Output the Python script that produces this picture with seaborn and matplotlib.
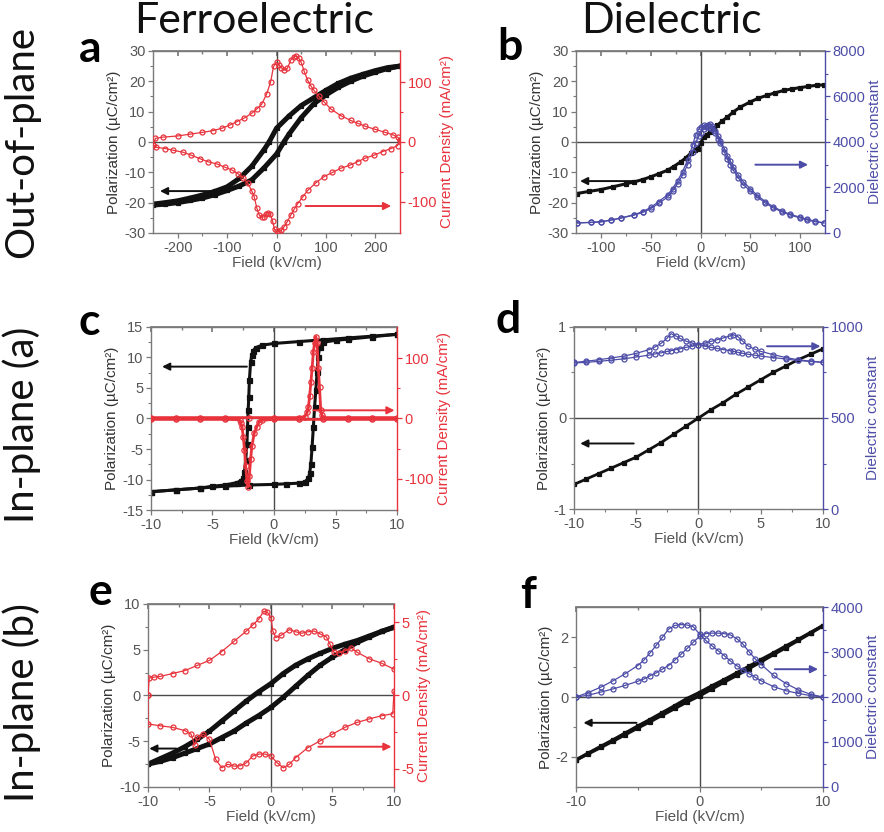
import matplotlib
matplotlib.use("Agg")
import matplotlib.pyplot as plt
import numpy as np
import pandas as pd
import seaborn as sns

sns.set_theme(style="white")
plt.rcParams['font.family'] = ['Liberation Sans', 'DejaVu Sans']
plt.rcParams['axes.unicode_minus'] = False

BLACK = '#111111'
RED = '#e8333c'
BLUE = '#4d4da8'
GREY = '#7a7a7a'
TICKTXT = '#555555'

# ---------------- (a) out-of-plane, ferroelectric ----------------
a_e_up = [250, 225, 200, 175, 150, 125, 100, 75, 50, 25, 0, -15, -25, -50, -75, -100, -125, -150, -175, -200, -225, -250]
a_p_up = [25, 24.5, 23.5, 22.3, 21, 19.3, 17, 14.5, 12, 8.5, 4.5, 0, -2.5, -8, -12, -14.8, -16.3, -17.5, -18.5, -19.4, -20, -20.5]
a_e_dn = [-250, -225, -200, -175, -150, -125, -100, -75, -50, -25, 0, 15, 25, 50, 75, 100, 125, 150, 175, 200, 225, 250]
a_p_dn = [-20.8, -20.5, -20, -19.3, -18.5, -17.4, -16, -14.5, -12.5, -8.5, -4, 0, 2.5, 8, 12.5, 15.5, 18, 20, 21.7, 23, 24.2, 25]
a_j_e_up = [-250, -245, -230, -200, -175, -150, -128, -110, -95, -80, -65, -50, -40, -30, -20, -12, -6, 0, 5, 10, 16, 22,
            29, 35, 40, 45, 50, 56, 63, 70, 76, 86, 96, 110, 130, 150, 165, 180, 200, 220, 235, 245, 250]
a_j_up = [-5, 6, 8, 10, 13, 16, 19, 23, 28, 34, 40, 48, 55, 63, 80, 100, 126, 133, 128, 124, 120, 123,
          137, 142, 143, 140, 133, 118, 103, 93, 86, 76, 67, 55, 44, 36, 31, 26, 21, 16, 12, 8, 4]
a_j_e_dn = [250, 245, 232, 215, 198, 180, 164, 148, 130, 113, 96, 80, 63, 53, 43, 36, 29, 22, 15, 10, 5, 0, -4, -8,
            -13, -18, -22, -25, -30, -35, -40, -45, -50, -58, -68, -78, -90, -105, -120, -139, -155, -173, -190,
            -209, -225, -243, -250]
a_j_dn = [4, -6, -11, -16, -22, -27, -33, -39, -44, -51, -58, -68, -81, -92, -103, -112, -122, -133, -142, -147, -150,
          -149, -146, -132, -120, -118, -121, -125, -126, -122, -110, -92, -82, -69, -60, -53, -47, -42, -37, -33,
          -28, -22, -17, -14, -11, -9, -5]

# ---------------- (b) out-of-plane, dielectric ----------------
b_e = [-124, -112, -100, -88, -75, -67, -58, -50, -42, -33, -27, -20, -15, -10, -6, -3, 0, 3, 6, 10, 14, 17, 22, 27,
       33, 40, 50, 58, 67, 75, 84, 92, 100, 108, 117, 124]
b_p = [-17, -16.3, -15.7, -14.8, -13.8, -13.2, -12.4, -11.5, -10.5, -9.3, -8.1, -6.6, -5.3, -3.8, -2.8, -2.2, -0.5,
       1.6, 2.4, 3.3, 4.5, 5.5, 7, 8.2, 9.9, 11.5, 13.2, 14.4, 15.4, 16.2, 17, 17.5, 17.9, 18.3, 18.7, 18.8]
b_eps_e = [-124, -110, -100, -90, -80, -67, -58, -50, -42, -33, -28, -23, -18, -13, -8, -5, -2, 0, 3, 5, 8, 10, 12,
           15, 18, 20, 24, 27, 30, 33, 38, 43, 50, 57, 65, 73, 82, 90, 100, 107, 115, 124]
b_eps_up = [440, 460, 480, 560, 650, 780, 900, 1070, 1300, 1580, 1850, 2170, 2550, 3000, 3550, 3950, 4250, 4400, 4550,
            4650, 4750, 4780, 4700, 4500, 4250, 4050, 3700, 3400, 3150, 2900, 2550, 2250, 1950, 1650, 1380, 1150,
            960, 820, 690, 600, 520, 440]
b_eps_dn = [440, 470, 500, 570, 660, 800, 940, 1120, 1380, 1680, 1950, 2300, 2700, 3200, 3850, 4300, 4550, 4650, 4730,
            4720, 4680, 4620, 4550, 4400, 4150, 3950, 3550, 3250, 3000, 2750, 2420, 2120, 1850, 1580, 1320, 1100,
            920, 790, 660, 570, 490, 440]

# ---------------- (c) in-plane (a), ferroelectric ----------------
c_e_up = [10, 8, 6, 4, 2, 0, -1, -1.5, -1.7, -1.8, -1.9, -2.0, -2.05, -2.1, -2.15, -2.2, -2.3, -2.4, -2.5, -2.7,
          -3, -4, -5, -6, -8, -10]
c_p_up = [13.8, 13.5, 13.2, 12.9, 12.6, 12.3, 12.0, 11.6, 11.1, 10.4, 9.3, 6.3, 3.5, 1.4, -1.4, -4.1, -6.8, -8.7,
          -9.8, -10.2, -10.5, -10.9, -11.1, -11.4, -11.7, -12.0]
c_e_dn = [-10, -8, -6, -4, -2, 0, 1, 2, 2.5, 2.8, 2.9, 3.0, 3.1, 3.2, 3.3, 3.4, 3.5, 3.6, 3.7, 4, 5, 6, 8, 10]
c_p_dn = [-12.0, -11.7, -11.4, -11.1, -10.9, -10.8, -10.7, -10.6, -10.4, -9.8, -9.0, -7.4, -4.6, -1.4, 1.9, 4.6,
          7.6, 10.1, 11.7, 12.5, 12.8, 13.0, 13.4, 13.8]
c_j_e_up = [-10, -8, -6, -4, -2, 0, 2, 2.5, 2.7, 2.8, 2.9, 3.0, 3.1, 3.2, 3.3, 3.4, 3.5, 3.6, 3.7, 3.8, 3.9, 4.0,
            6, 8, 10]
c_j_up = [1.5, 1.5, 1.5, 1.5, 1.5, 1.5, 1.5, 3, 10, 19, 38, 60, 84, 111, 125, 136, 125, 84, 52, 14, 5, 1.5,
          1.5, 1.5, 1.5]
c_j_e_dn = [10, 8, 6, 4, 2, 0, -1, -1.2, -1.4, -1.6, -1.8, -1.9, -2.0, -2.1, -2.2, -2.3, -2.4, -2.5, -2.6, -2.7,
            -2.8, -4, -6, -8, -10]
c_j_dn = [-1.5, -1.5, -1.5, -1.5, -1.5, -1.5, -3, -5, -14, -24, -46, -68, -95, -114, -103, -79, -52, -30, -14, -8,
          -2, -1.5, -1.5, -1.5, -1.5]

# ---------------- (d) in-plane (a), dielectric ----------------
d_e = [-10, -9, -8, -7, -6, -5, -4, -3, -2, -1, 0, 1, 2, 3, 4, 5, 6, 7, 8, 9, 10]
d_p = [-0.73, -0.67, -0.61, -0.55, -0.49, -0.43, -0.35, -0.27, -0.18, -0.09, 0.0, 0.09, 0.17, 0.26, 0.34, 0.42,
       0.50, 0.57, 0.64, 0.70, 0.76]
d_eps_e = [-10, -9, -8, -7, -6, -5, -4, -3.5, -3, -2.5, -2.2, -1.8, -1.5, -1, -0.5, 0, 0.5, 1, 1.5, 2, 2.5, 2.8,
           3.2, 3.5, 4, 4.5, 5, 6, 7, 8, 9, 10]
d_eps_a = [805, 812, 820, 830, 840, 855, 875, 890, 910, 940, 963, 950, 938, 922, 912, 903, 895, 888, 882, 876, 870,
           866, 860, 856, 850, 845, 840, 832, 824, 816, 810, 806]
d_eps_b = [802, 806, 811, 818, 825, 835, 845, 852, 858, 866, 870, 876, 880, 888, 895, 903, 912, 921, 930, 940, 950,
           958, 945, 925, 895, 878, 866, 848, 832, 820, 812, 806]

# ---------------- (e) in-plane (b), ferroelectric ----------------
e_e_up = [10, 9, 8, 7, 6, 5, 4, 3, 2, 1, 0, -1, -2, -3, -4, -5, -6, -7, -8, -9, -10]
e_p_up = [7.46, 7.0, 6.5, 6.0, 5.6, 5.15, 4.6, 4.0, 3.3, 2.4, 1.3, 0.4, -0.6, -1.7, -2.8, -3.9, -4.8, -5.6, -6.3,
          -6.9, -7.5]
e_e_dn = [-10, -9, -8, -7, -6, -5, -4, -3, -2, -1, 0, 1, 2, 3, 4, 5, 6, 7, 8, 9, 10]
e_p_dn = [-7.5, -7.2, -6.8, -6.3, -5.8, -5.3, -4.6, -3.9, -3.0, -2.2, -1.3, -0.2, 1.0, 2.2, 3.3, 4.2, 5.0, 5.8,
          6.4, 7.0, 7.46]
e_j_e_up = [-10, -9.9, -9.5, -9, -8, -7, -6, -5, -4, -3, -2, -1.5, -1, -0.6, -0.3, 0, 0.15, 0.4, 0.8, 1.5, 2,
            2.5, 3, 3.5, 4, 4.5, 4.8, 5.1, 5.5, 6, 6.5, 7, 8, 9, 10]
e_j_up = [0.0, 1.2, 1.25, 1.3, 1.5, 1.7, 2.05, 2.4, 3.0, 3.7, 4.4, 4.8, 5.2, 5.75, 5.7, 5.3, 4.4, 3.95, 4.1, 4.5,
          4.35, 4.25, 4.35, 4.4, 4.2, 4.0, 3.5, 2.95, 2.9, 3.05, 3.25, 2.95, 2.5, 2.2, 1.8]
e_j_e_dn = [10, 9.9, 9, 8, 7, 6, 5, 4, 3, 2, 1.5, 1, 0.5, 0, -0.5, -1, -1.5, -2, -2.5, -3, -3.5, -4, -4.5, -5,
            -5.5, -6, -6.2, -6.5, -7, -8, -9, -10, -10]
e_j_dn = [0.3, -1.25, -1.38, -1.6, -1.84, -2.18, -2.64, -3.1, -3.56, -4.25, -4.7, -4.94, -4.6, -4.14, -4.0, -4.0,
          -4.14, -4.6, -4.8, -4.83, -4.7, -4.94, -4.37, -3.0, -2.64, -2.87, -3.4, -2.64, -2.4, -2.18, -2.07,
          -1.95, 0.0]

# ---------------- (f) in-plane (b), dielectric ----------------
f_e = [-10, -9, -8, -7, -6, -5, -4, -3, -2, -1, 0, 1, 2, 3, 4, 5, 6, 7, 8, 9, 10]
f_p_dn = [-2.1, -1.89, -1.68, -1.47, -1.25, -1.03, -0.82, -0.6, -0.38, -0.16, 0.04, 0.27, 0.5, 0.72, 0.95, 1.18,
          1.42, 1.65, 1.89, 2.13, 2.38]
f_p_up = [-2.1, -1.87, -1.65, -1.43, -1.2, -0.97, -0.75, -0.52, -0.29, -0.05, 0.15, 0.37, 0.58, 0.8, 1.02, 1.25,
          1.47, 1.7, 1.92, 2.15, 2.38]
f_eps_e = [-10, -9, -8, -7, -6, -5, -4.5, -4, -3.5, -3, -2.5, -2, -1.5, -1, -0.5, 0, 0.5, 1, 1.5, 2, 2.5, 3, 3.5,
           4, 4.5, 5, 6, 7, 8, 9, 10]
f_eps_a = [2000, 2100, 2218, 2360, 2520, 2700, 2820, 2982, 3150, 3330, 3510, 3590, 3610, 3600, 3560, 3400, 3260,
           3140, 3030, 2920, 2800, 2700, 2610, 2520, 2440, 2360, 2230, 2140, 2080, 2030, 2000]
f_eps_b = [2000, 2040, 2109, 2180, 2260, 2350, 2400, 2473, 2540, 2620, 2700, 2820, 2950, 3080, 3220, 3345, 3410,
           3420, 3420, 3410, 3380, 3300, 3180, 3010, 2850, 2720, 2480, 2300, 2160, 2060, 2000]

FIELD = "Field (kV/cm)"
POL = "Polarization (µC/cm²)"
CUR = "Current Density (mA/cm²)"
DIEL = "Dielectric constant"

TICK_FS = 10.5
LABEL_FS = 11

fig = plt.figure(figsize=(8.84, 8.32), dpi=100)


def trace(ax, x, y, color, marker, ms, lw, filled=True, mew=0.9):
    df = pd.DataFrame({"field": x, "value": y})
    sns.lineplot(data=df, x="field", y="value", ax=ax, sort=False, estimator=None, legend=False,
                 color=color, lw=lw, marker=marker, markersize=ms, markeredgecolor=color,
                 markerfacecolor=color if filled else "none", markeredgewidth=mew)


def panel(rect, xlim, xt, xmin, ylim, yt, ymin, rlim, rt, rmin, rcolor):
    ax = fig.add_axes(rect)
    ax2 = ax.twinx()
    ax.set_xlim(*xlim)
    ax.set_ylim(*ylim)
    ax2.set_ylim(*rlim)
    ax.set_xticks(xt)
    ax.set_xticks(xmin, minor=True)
    ax.set_yticks(yt)
    ax.set_yticks(ymin, minor=True)
    ax2.set_yticks(rt)
    ax2.set_yticks(rmin, minor=True)
    for s in ("left", "bottom", "top"):
        ax.spines[s].set_color(GREY)
        ax.spines[s].set_linewidth(1.0)
        ax2.spines[s].set_visible(False)
    ax.spines["right"].set_visible(False)
    ax2.spines["right"].set_color(rcolor)
    ax2.spines["right"].set_linewidth(1.0)
    ax.tick_params(axis="both", which="both", direction="out", color=GREY, labelcolor=TICKTXT,
                   labelsize=TICK_FS, left=True, bottom=True, pad=2)
    ax.tick_params(which="major", length=3.5, width=0.9)
    ax.tick_params(which="minor", length=2, width=0.8)
    ax2.tick_params(axis="y", which="both", direction="out", color=rcolor, labelcolor=rcolor,
                    labelsize=TICK_FS, right=True, pad=2)
    ax2.tick_params(which="major", length=3.5, width=0.9)
    ax2.tick_params(which="minor", length=2, width=0.8)
    top = ax.secondary_xaxis("top")
    top.set_xticks(xt)
    top.set_xticks(xmin, minor=True)
    top.tick_params(axis="x", which="both", direction="in", labeltop=False, color=GREY)
    top.tick_params(which="major", length=3.5)
    top.tick_params(which="minor", length=2)
    top.spines["top"].set_color(GREY)
    ax.axhline(0, color="#4a4a4a", lw=1.0, zorder=1)
    ax.axvline(0, color="#4a4a4a", lw=1.0, zorder=1)
    return ax, ax2


def finish(ax, ax2, rcolor, rlabel):
    ax.set_xlabel(FIELD, fontsize=LABEL_FS, color=TICKTXT, labelpad=1)
    ax.set_ylabel(POL, fontsize=LABEL_FS, color="#333333", labelpad=2)
    ax2.set_ylabel(rlabel, fontsize=LABEL_FS, color=rcolor, labelpad=2)


def arrow(ax, x0, x1, y, color):
    ax.annotate("", xy=(x1, y), xytext=(x0, y),
                arrowprops=dict(arrowstyle="-|>", color=color, lw=1.4, mutation_scale=11,
                                shrinkA=0, shrinkB=0))


# (a)
ax, ax2 = panel([0.1731, 0.7200, 0.2794, 0.2188], (-250, 250), [-200, -100, 0, 100, 200], [-150, -50, 50, 150],
                (-30, 30), [-30, -20, -10, 0, 10, 20, 30], [-25, -15, -5, 5, 15, 25],
                (-152, 152), [-100, 0, 100], [-50, 50], RED)
trace(ax, a_e_up, a_p_up, BLACK, "s", 3.4, 3.6)
trace(ax, a_e_dn, a_p_dn, BLACK, "s", 3.4, 3.6)
trace(ax2, a_j_e_up, a_j_up, RED, "o", 3.6, 0.9, filled=False)
trace(ax2, a_j_e_dn, a_j_dn, RED, "o", 3.6, 0.9, filled=False)
arrow(ax, -129, -236, -16.2, BLACK)
arrow(ax2, 59, 232, -107, RED)
finish(ax, ax2, RED, CUR)

# (b)
ax, ax2 = panel([0.6516, 0.7200, 0.2817, 0.2188], (-125, 125), [-100, -50, 0, 50, 100], [-75, -25, 25, 75],
                (-30, 30), [-30, -20, -10, 0, 10, 20, 30], [-25, -15, -5, 5, 15, 25],
                (0, 8000), [0, 2000, 4000, 6000, 8000], [1000, 3000, 5000, 7000], BLUE)
trace(ax, b_e, b_p, BLACK, "s", 3.0, 2.2)
trace(ax2, b_eps_e, b_eps_up, BLUE, "o", 3.6, 0.9, filled=False)
trace(ax2, b_eps_e[::-1], b_eps_dn[::-1], BLUE, "o", 3.6, 0.9, filled=False)
arrow(ax, -67, -121, -12.9, BLACK)
arrow(ax2, 55, 108, 3000, BLUE)
finish(ax, ax2, BLUE, DIEL)

# (c)
ax, ax2 = panel([0.1708, 0.3870, 0.2783, 0.2200], (-10, 10), [-10, -5, 0, 5, 10], [-7.5, -2.5, 2.5, 7.5],
                (-15, 15), [-15, -10, -5, 0, 5, 10, 15], [-12.5, -7.5, -2.5, 2.5, 7.5, 12.5],
                (-152, 152), [-100, 0, 100], [-50, 50], RED)
trace(ax, c_e_up, c_p_up, BLACK, "s", 3.6, 2.2)
trace(ax, c_e_dn, c_p_dn, BLACK, "s", 3.6, 2.2)
trace(ax2, c_j_e_up, c_j_up, RED, "o", 3.8, 2.0, filled=False)
trace(ax2, c_j_e_dn, c_j_dn, RED, "o", 3.8, 2.0, filled=False)
arrow(ax, -2.2, -9.1, 8.5, BLACK)
arrow(ax2, 3.2, 9.8, 13.6, RED)
finish(ax, ax2, RED, CUR)

# (d)
ax, ax2 = panel([0.6493, 0.3882, 0.2817, 0.2188], (-10, 10), [-10, -5, 0, 5, 10], [-7.5, -2.5, 2.5, 7.5],
                (-1, 1), [-1, 0, 1], [-0.5, 0.5],
                (0, 1000), [0, 500, 1000], [250, 750], BLUE)
trace(ax, d_e, d_p, BLACK, "s", 3.2, 2.0)
trace(ax2, d_eps_e, d_eps_a, BLUE, "o", 3.6, 0.9, filled=False)
trace(ax2, d_eps_e[::-1], d_eps_b[::-1], BLUE, "o", 3.6, 0.9, filled=False)
arrow(ax, -5.2, -9.5, -0.28, BLACK)
arrow(ax2, 5.5, 9.8, 894, BLUE)
finish(ax, ax2, BLUE, DIEL)

# (e)
ax, ax2 = panel([0.1674, 0.0541, 0.2783, 0.2200], (-10, 10), [-10, -5, 0, 5, 10], [-7.5, -2.5, 2.5, 7.5],
                (-10, 10), [-10, -5, 0, 5, 10], [-7.5, -2.5, 2.5, 7.5],
                (-6.25, 6.25), [-5, 0, 5], [-2.5, 2.5], RED)
trace(ax, e_e_up, e_p_up, BLACK, "s", 3.4, 3.6)
trace(ax, e_e_dn, e_p_dn, BLACK, "s", 3.4, 3.6)
trace(ax2, e_j_e_up, e_j_up, RED, "o", 3.6, 0.9, filled=False)
trace(ax2, e_j_e_dn, e_j_dn, RED, "o", 3.6, 0.9, filled=False)
arrow(ax, -7.7, -9.9, -5.8, BLACK)
arrow(ax2, 3.85, 9.8, -3.5, RED)
finish(ax, ax2, RED, CUR)

# (f)
ax, ax2 = panel([0.6516, 0.0541, 0.2794, 0.2163], (-10, 10), [-10, 0, 10], [-5, 5],
                (-3, 3), [-2, 0, 2], [-1, 1],
                (0, 4000), [0, 1000, 2000, 3000, 4000], [500, 1500, 2500, 3500], BLUE)
trace(ax, f_e, f_p_dn, BLACK, "s", 3.0, 2.4)
trace(ax, f_e[::-1], f_p_up[::-1], BLACK, "s", 3.0, 2.4)
trace(ax2, f_eps_e, f_eps_a, BLUE, "o", 3.6, 0.9, filled=False)
trace(ax2, f_eps_e[::-1], f_eps_b[::-1], BLUE, "o", 3.6, 0.9, filled=False)
arrow(ax, -5.1, -9.4, -0.86, BLACK)
arrow(ax2, 6.1, 9.6, 2618, BLUE)
finish(ax, ax2, BLUE, DIEL)

# column headings, row headings and panel letters
HEAD = dict(family=["Lato", "DejaVu Sans"], fontweight="normal", color="#111111")
fig.text(0.288, 0.997, "Ferroelectric", ha="center", va="top", fontsize=31, **HEAD)
fig.text(0.760, 0.997, "Dielectric", ha="center", va="top", fontsize=31, **HEAD)
fig.text(0.024, 0.829, "Out-of-plane", ha="center", va="center", rotation=90, fontsize=29, **HEAD)
fig.text(0.024, 0.489, "In-plane (a)", ha="center", va="center", rotation=90, fontsize=29, **HEAD)
fig.text(0.024, 0.156, "In-plane (b)", ha="center", va="center", rotation=90, fontsize=29, **HEAD)

LET = dict(fontsize=32, family=["Lato", "DejaVu Sans"], fontweight="bold", color="#000000", va="baseline")
for x, y, s in [(0.0890, 0.925, "a"), (0.563, 0.928, "b"), (0.0890, 0.597, "c"),
                (0.560, 0.600, "d"), (0.100, 0.273, "e"), (0.588, 0.269, "f")]:
    fig.text(x, y, s, **LET)

fig.savefig("out.png", dpi=100)
